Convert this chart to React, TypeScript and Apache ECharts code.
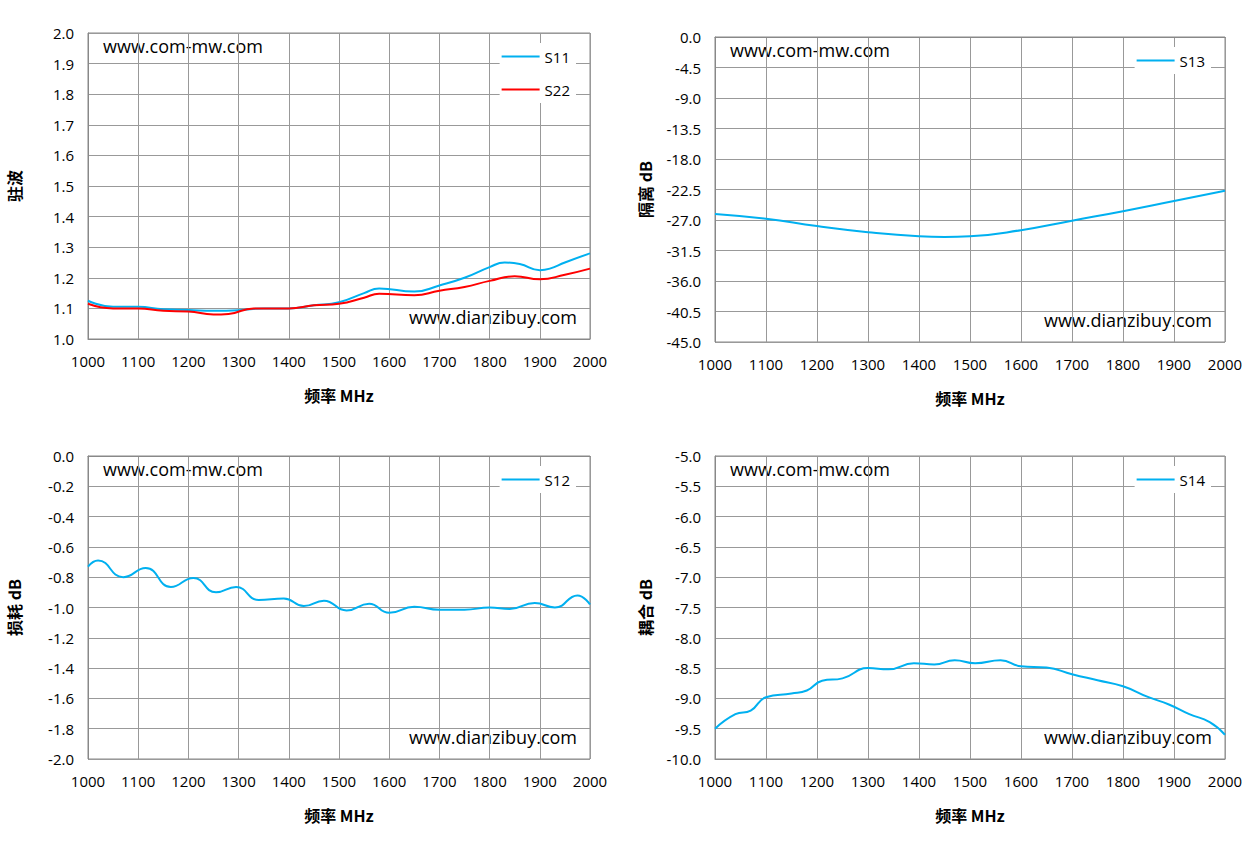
import { useEffect, useRef } from 'react';
import * as echarts from 'echarts';

const s11 = [[1000,1.125],[1050,1.105],[1100,1.105],[1150,1.097],[1200,1.095],[1250,1.092],[1300,1.094],[1350,1.1],[1400,1.1],[1450,1.11],[1500,1.12],[1550,1.15],[1580,1.165],[1650,1.155],[1700,1.175],[1750,1.2],[1800,1.235],[1830,1.25],[1860,1.245],[1900,1.225],[1920,1.23],[1950,1.25],[2000,1.28]];
const s22 = [[1000,1.115],[1050,1.1],[1100,1.1],[1150,1.092],[1200,1.09],[1250,1.08],[1280,1.082],[1330,1.1],[1400,1.1],[1450,1.11],[1500,1.115],[1550,1.135],[1580,1.148],[1650,1.143],[1700,1.158],[1750,1.17],[1800,1.19],[1850,1.205],[1900,1.195],[1950,1.21],[2000,1.23]];
const s13 = [[1000,-26.1],[1100,-26.8],[1200,-27.9],[1300,-28.8],[1400,-29.4],[1450,-29.5],[1500,-29.4],[1600,-28.5],[1700,-27.1],[1800,-25.7],[1900,-24.2],[2000,-22.7]];
const s12 = [[1000,-0.73],[1020,-0.69],[1070,-0.8],[1115,-0.74],[1165,-0.865],[1210,-0.805],[1255,-0.9],[1295,-0.865],[1340,-0.95],[1390,-0.94],[1430,-0.99],[1470,-0.955],[1515,-1.02],[1560,-0.975],[1600,-1.035],[1650,-0.995],[1700,-1.015],[1750,-1.015],[1800,-1.0],[1840,-1.01],[1890,-0.97],[1930,-1.0],[1975,-0.92],[2000,-0.98]];
const s14 = [[1000,-9.5],[1040,-9.26],[1070,-9.2],[1100,-8.98],[1150,-8.92],[1180,-8.87],[1210,-8.71],[1250,-8.67],[1300,-8.5],[1340,-8.52],[1390,-8.42],[1430,-8.44],[1470,-8.37],[1510,-8.42],[1560,-8.37],[1600,-8.47],[1650,-8.49],[1700,-8.6],[1750,-8.7],[1800,-8.8],[1850,-8.98],[1890,-9.1],[1930,-9.26],[1970,-9.39],[2000,-9.6]];

const yNames = ['驻波', '隔离 dB', '损耗 dB', '耦合 dB'];
const yRanges = [[1, 2, 0.1], [-45, 0, 4.5], [-2, 0, 0.2], [-10, -5, 0.5]];

const CYAN = '#00B0F0';
const font = '"Open Sans", sans-serif';
const cjk = '"Noto Sans CJK SC", serif';

const grids = [
  { left: 88, top: 33, width: 502, height: 306 },
  { left: 715, top: 37, width: 510, height: 305 },
  { left: 88, top: 456, width: 502, height: 303 },
  { left: 715, top: 456, width: 510, height: 303 },
];

export default function App() {
  const ref = useRef<HTMLDivElement>(null);
  useEffect(() => {
    if (!ref.current) return;
    const chart = echarts.init(ref.current, undefined, { renderer: 'svg' });
    const lineSeries = (name: string, data: number[][], i: number, color: string) => ({
      name, type: 'line', xAxisIndex: i, yAxisIndex: i, data, smooth: true,
      symbol: 'none', lineStyle: { color, width: 2 }, itemStyle: { color },
    });
    const legends = [['S11', 'S22'], ['S13'], ['S12'], ['S14']].map((d, i) => ({
      data: d, orient: 'vertical', right: 1258 - (grids[i].left + grids[i].width) + 14,
      top: grids[i].top + 10, backgroundColor: '#fff',
      icon: 'rect', itemWidth: 38, itemHeight: 2, itemGap: 18, padding: [6, 6, 6, 2],
      textStyle: { fontFamily: font, fontSize: 15, color: '#000' },
    }));
    const marks: any[] = [];
    grids.forEach((g) => {
      marks.push({ type: 'text', left: g.left + 15, top: g.top + 4, style: { text: 'www.com-mw.com', font: `18px ${font}`, fill: '#000' } });
      marks.push({ type: 'text', right: 1258 - (g.left + g.width) + 13, top: g.top + g.height - 31, style: { text: 'www.dianzibuy.com', font: `18px ${font}`, fill: '#000' } });
    });
    chart.setOption({
      animation: false,
      grid: grids.map((g) => ({ ...g, show: true, borderColor: '#888', borderWidth: 1, backgroundColor: '#fff' })),
      legend: legends,
      graphic: marks,
      xAxis: grids.map((_, i) => ({
        type: 'value', gridIndex: i, min: 1000, max: 2000, interval: 100,
        name: '频率 MHz', nameLocation: 'middle', nameGap: 48,
        nameTextStyle: { fontFamily: cjk, fontWeight: 'bold', fontSize: 16, color: '#000' },
        axisLine: { lineStyle: { color: '#888' } }, axisTick: { show: false },
        axisLabel: { fontFamily: font, fontSize: 15, color: '#000', margin: 14, formatter: (v: number) => String(v) },
        splitLine: { lineStyle: { color: '#999' } },
      })),
      yAxis: grids.map((_, i) => ({
        type: 'value', gridIndex: i, min: yRanges[i][0], max: yRanges[i][1], interval: yRanges[i][2],
        name: yNames[i], nameLocation: 'middle', nameGap: i % 2 === 0 ? 66 : 62, nameRotate: 90,
        nameTextStyle: { fontFamily: cjk, fontWeight: 'bold', fontSize: 16, color: '#000' },
        axisLine: { show: true, lineStyle: { color: '#888' } }, axisTick: { show: false },
        axisLabel: { fontFamily: font, fontSize: 15, color: '#000', margin: 14, formatter: (v: number) => v.toFixed(1) },
        splitLine: { lineStyle: { color: '#999' } },
      })),
      series: [
        lineSeries('S11', s11, 0, CYAN),
        lineSeries('S22', s22, 0, '#FF0000'),
        lineSeries('S13', s13, 1, CYAN),
        lineSeries('S12', s12, 2, CYAN),
        lineSeries('S14', s14, 3, CYAN),
      ],
    });
    return () => chart.dispose();
  }, []);
  return <div ref={ref} style={{ position: 'fixed', left: 0, top: 0, width: 1258, height: 844, background: '#fff' }} />;
}
